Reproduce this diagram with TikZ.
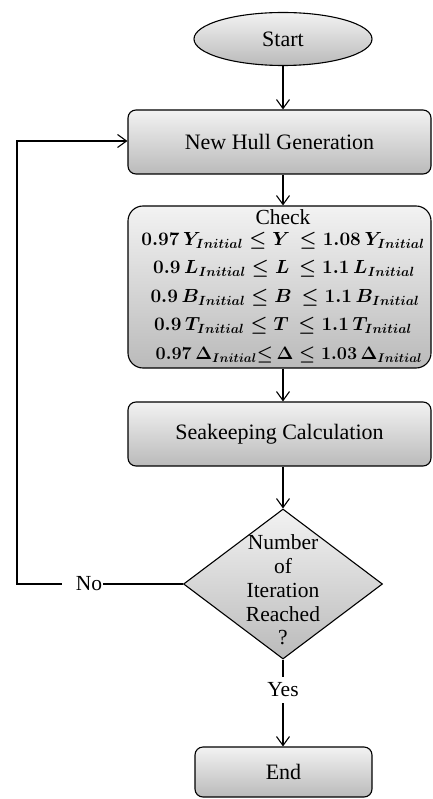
\RequirePackage{fix-cm}
\documentclass[tikz,border=0pt]{standalone}
\usepackage{fontspec}
\setmainfont{Liberation Serif}
\usetikzlibrary{shapes.geometric,arrows.meta}
\tikzset{
  x=1pt,y=1pt,
  base/.style={draw=black,line width=1.1pt,top color=black!5,bottom color=black!27,font=\fontsize{22}{23.7}\selectfont,inner sep=0pt,align=center},
  procbox/.style={base,rectangle,rounded corners=8pt,minimum width=303pt,minimum height=64pt},
  termbox/.style={base,rectangle,rounded corners=8pt,minimum width=177pt,minimum height=50pt},
  startell/.style={base,ellipse,minimum width=178pt,minimum height=53pt},
  decide/.style={base,diamond,minimum width=199pt,minimum height=150pt,aspect=1.33},
  conn/.style={line width=1.1pt,draw=black},
  arr/.style={conn,-{Straight Barb[length=9pt,width=13pt,line width=1.1pt]}},
  lbl/.style={font=\fontsize{21.5}{23.7}\selectfont,inner sep=0pt},
  mathl/.style={font=\fontsize{19}{20}\selectfont\boldmath,inner sep=0pt}
}
\begin{document}
\begin{tikzpicture}
\useasboundingbox (0,0) rectangle (432,-799);
\node[startell] (start) at (283,-39) {Start};
\node[procbox] (nhg) at (279.5,-142) {New Hull Generation};
\node[procbox,rounded corners=15pt,minimum height=162pt] (check) at (279.5,-287) {};
\node[lbl] (chk) at (283,-217) {Check};
\node[mathl] (m1) at (283,-241) {$0.97\,Y_{Initial}\leq Y\,\leq 1.08\,Y_{Initial}$};
\node[mathl] (m2) at (284,-269) {$0.9\,L_{Initial}\leq L\,\leq 1.1\,L_{Initial}$};
\node[mathl] (m3) at (285,-298) {$0.9\,B_{Initial}\leq B\,\leq 1.1\,B_{Initial}$};
\node[mathl] (m4) at (283,-326) {$0.9\,T_{Initial}\leq T\,\leq 1.1\,T_{Initial}$};
\node[mathl,font=\fontsize{18}{20}\selectfont\boldmath] (m5) at (289,-355) {$0.97\,\Delta_{Initial}{\leq}\,\Delta\leq 1.03\,\Delta_{Initial}$};
\node[procbox] (sea) at (279.5,-434) {Seakeeping Calculation};
\node[decide] (dec) at (283,-584) {};
\node[lbl,align=center] (dectext) at (283,-590) {Number\\of\\Iteration\\Reached\\?};
\node[lbl] (no) at (89,-584) {No};
\node[lbl] (yes) at (283,-690) {Yes};
\node[termbox] (end) at (283.5,-772) {End};
\coordinate (corner1) at (17,-584);
\coordinate (corner2) at (17,-141);
\draw[arr] (start.south) -- (start.south |- nhg.north);
\draw[arr] (start.south |- nhg.south) -- (start.south |- check.north);
\draw[arr] (start.south |- check.south) -- (start.south |- sea.north);
\draw[arr] (start.south |- sea.south) -- (dec.north);
\draw[conn] (dec.west) -- ([xshift=1pt]no.east);
\draw[arr] ([xshift=-14pt]no.west) -- (corner1) -- (corner2) -- (corner2 -| nhg.west);
\draw[conn] (dec.south) -- ([yshift=6pt]dec.south |- yes.north);
\draw[arr] ([yshift=-6pt]dec.south |- yes.south) -- (dec.south |- end.north);
\end{tikzpicture}
\end{document}
